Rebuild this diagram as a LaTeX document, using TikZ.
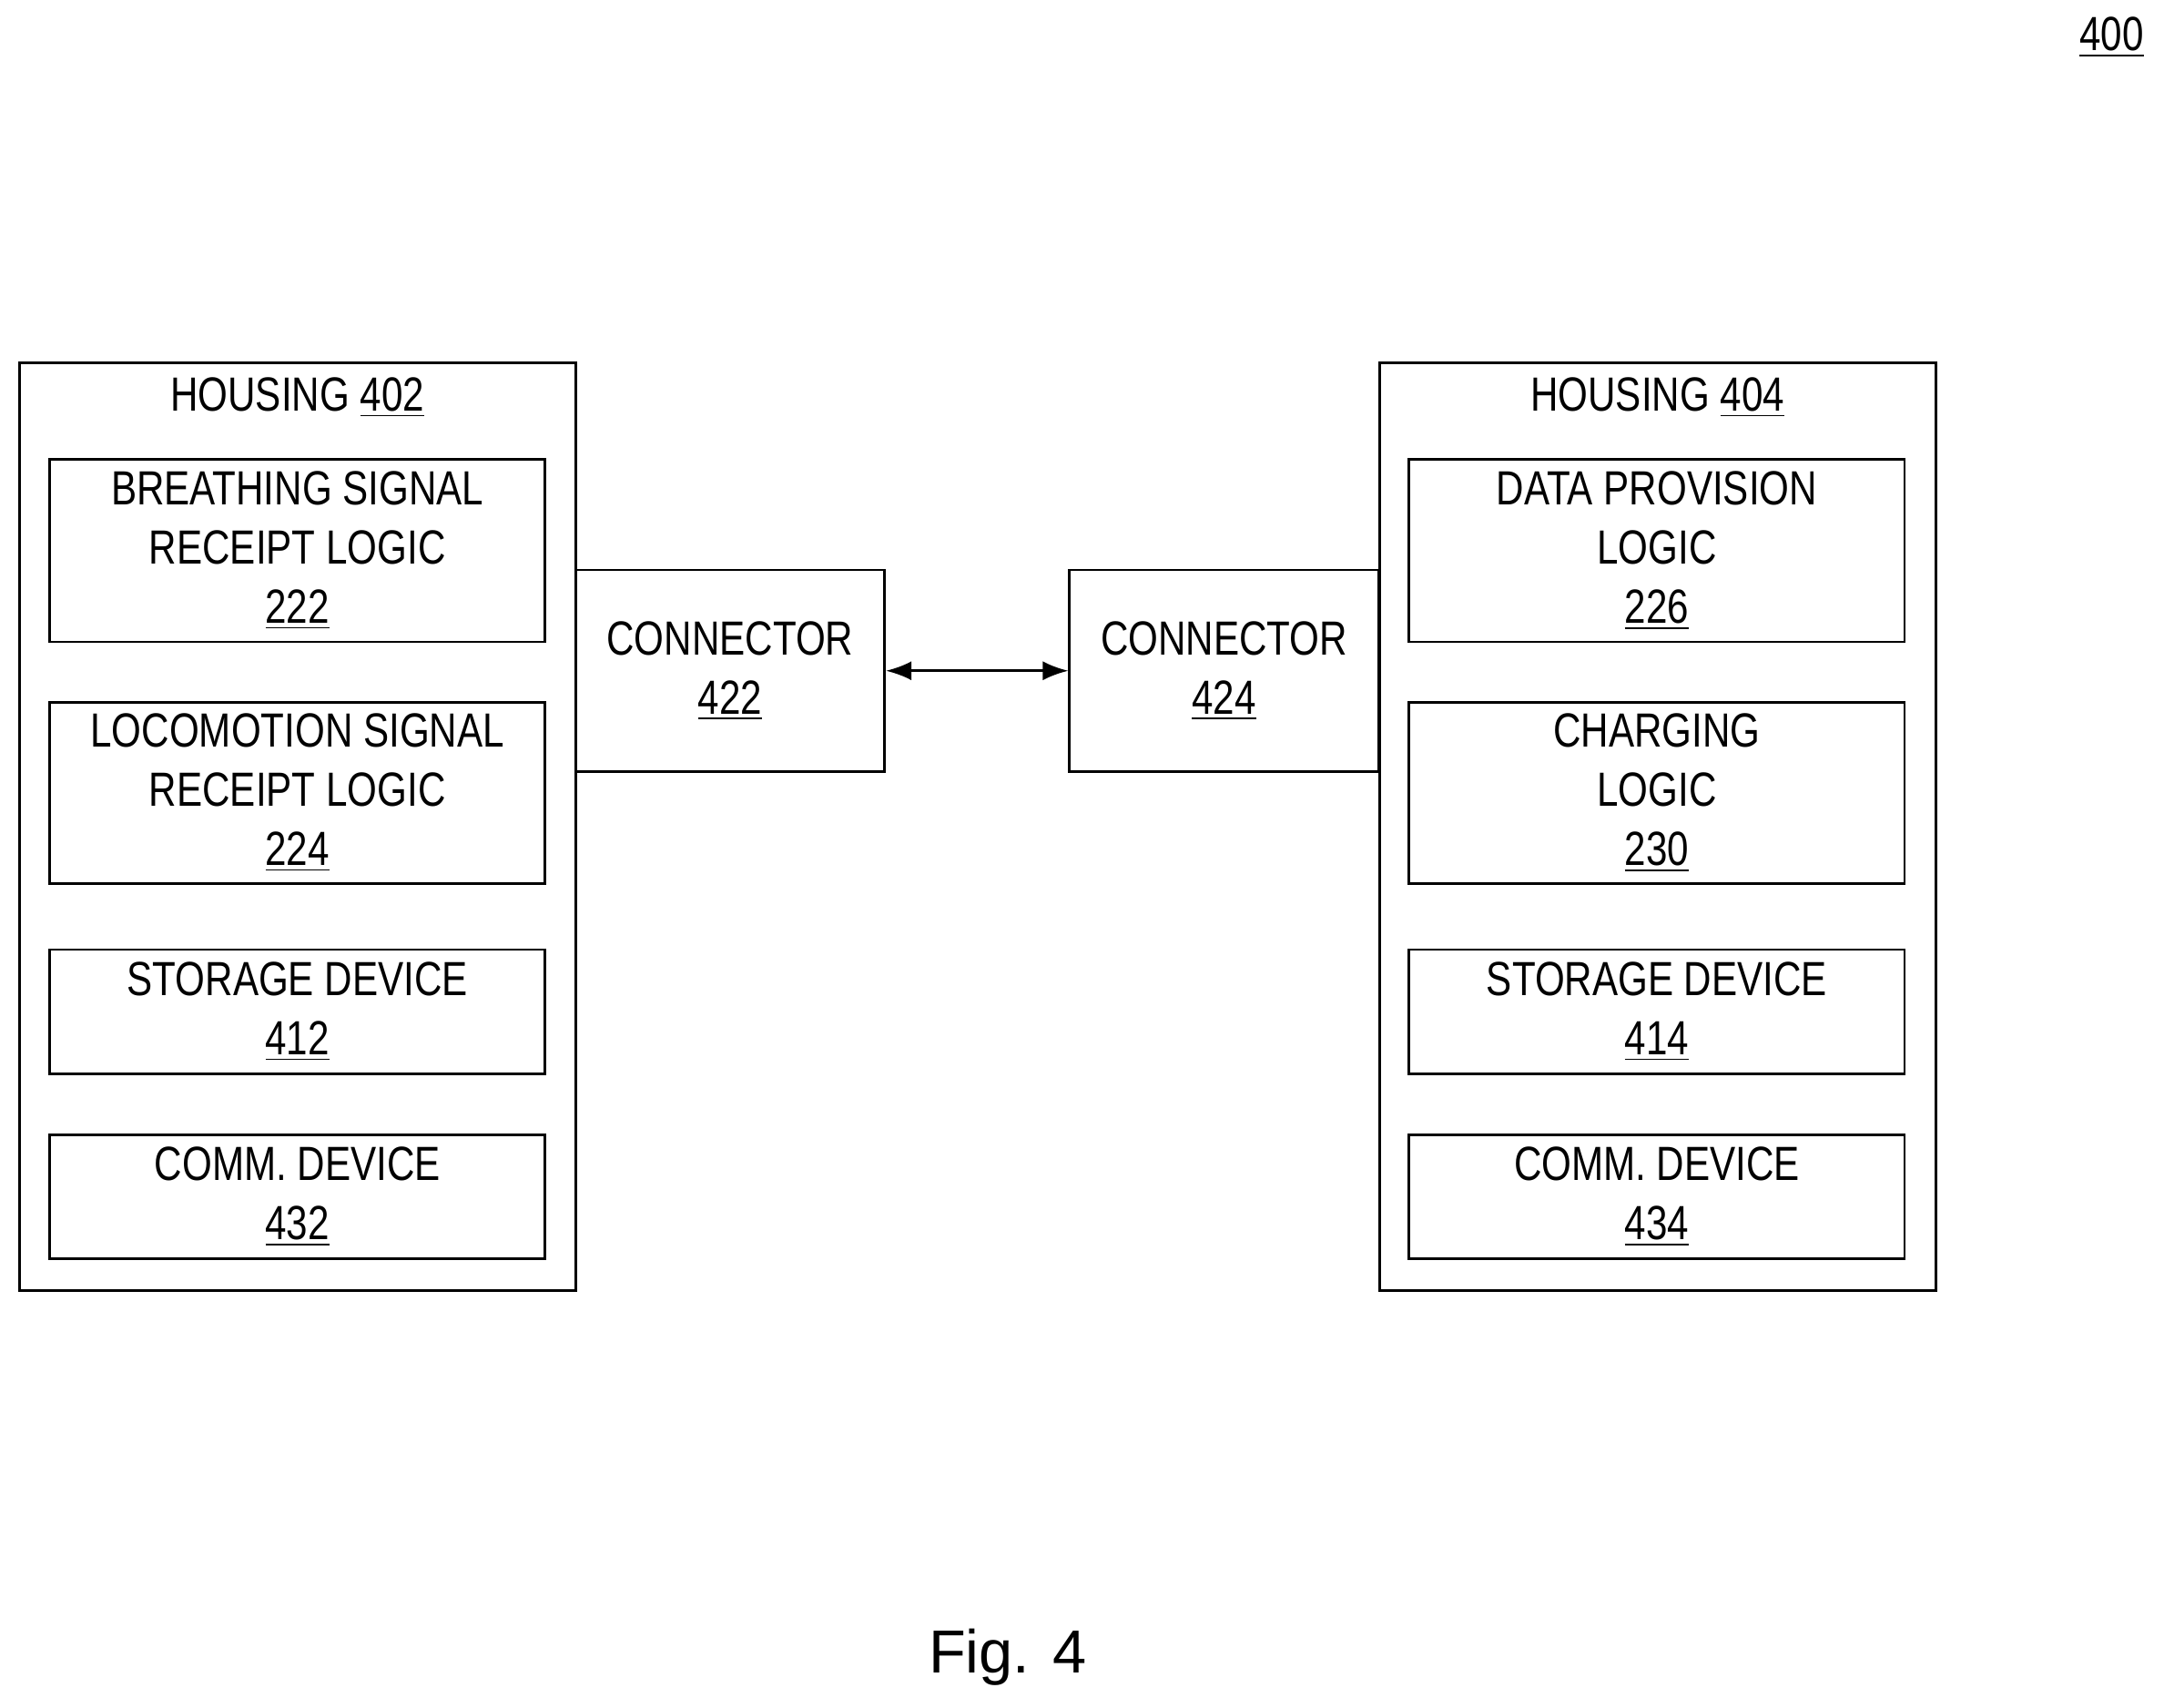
\documentclass[tikz,border=0pt]{standalone}
\usepackage{fontspec}
\setmainfont{Liberation Sans}
\newfontfamily\narrowfont{Liberation Sans}[FakeStretch=0.8]
\usetikzlibrary{positioning,arrows.meta}
\def\px{0.01516cm}
\tikzset{
  blk/.style={draw, thick, align=center, inner sep=0pt, font=\narrowfont\fontsize{15}{18.5}\selectfont,
    minimum width=359*\px},
  house/.style={draw, thick, minimum width=403*\px, minimum height=672*\px},
  conn/.style={blk, minimum width=224*\px, minimum height=146*\px}
}
\newcommand{\refnum}[1]{\underline{#1}}
\begin{document}
\begin{tikzpicture}[x=\px, y=-\px]
\useasboundingbox (0,0) rectangle (1568,1237);
% left housing
\node[house] (h402) at (215.5,599) {};
\node[font=\narrowfont\fontsize{15}{18}\selectfont] (t402) at (215.5,288) {HOUSING \refnum{402}};
\node[blk, minimum height=132*\px] (b222) at (215.5,399) {BREATHING SIGNAL\\RECEIPT LOGIC\\\refnum{222}};
\node[blk, minimum height=131*\px] (b224) at (215.5,574.5) {LOCOMOTION SIGNAL\\RECEIPT LOGIC\\\refnum{224}};
\node[blk, minimum height=90*\px] (b412) at (215.5,733) {STORAGE DEVICE\\\refnum{412}};
\node[blk, minimum height=90*\px] (b432) at (215.5,867) {COMM. DEVICE\\\refnum{432}};
% right housing
\node[house] (h404) at (1201,599) {};
\node[font=\narrowfont\fontsize{15}{18}\selectfont] (t404) at (1201,288) {HOUSING \refnum{404}};
\node[blk, minimum height=132*\px] (b226) at (1200.5,399) {DATA PROVISION\\LOGIC\\\refnum{226}};
\node[blk, minimum height=131*\px] (b230) at (1200.5,574.5) {CHARGING\\LOGIC\\\refnum{230}};
\node[blk, minimum height=90*\px] (b414) at (1200.5,733) {STORAGE DEVICE\\\refnum{414}};
\node[blk, minimum height=90*\px] (b434) at (1200.5,867) {COMM. DEVICE\\\refnum{434}};
% connectors
\node[conn] (c422) at (529,486) {CONNECTOR\\\refnum{422}};
\node[conn] (c424) at (887,486) {CONNECTOR\\\refnum{424}};
\draw[thick, {Latex[length=8pt]}-{Latex[length=8pt]}] (c422.east) -- (c424.west);
% labels
\node[font=\narrowfont\fontsize{15}{18}\selectfont] (n400) at (1530,27) {\refnum{400}};
\node[font=\fontsize{19}{22}\selectfont] (fig) at (730,1201) {Fig. 4};
\end{tikzpicture}
\end{document}
